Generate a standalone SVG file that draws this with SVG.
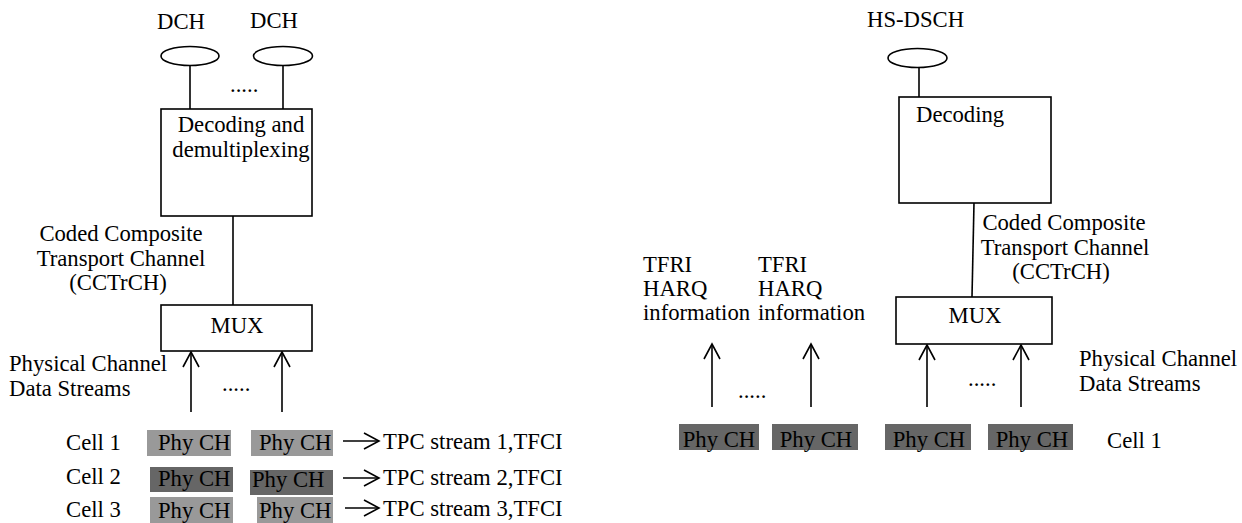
<svg xmlns="http://www.w3.org/2000/svg" width="1242" height="523" viewBox="0 0 1242 523">
<style>
text{font-family:"Liberation Serif","Times New Roman",serif;font-size:22.7px;fill:#000}
.m{text-anchor:middle}
.b{fill:#fff;stroke:#000;stroke-width:1.6}
.l{stroke:#000;stroke-width:1.6;fill:none}
.lt{fill:#999999}
.dk{fill:#666666}
</style>
<defs>
<marker id="ah" markerUnits="userSpaceOnUse" markerWidth="20" markerHeight="20" refX="0" refY="0" viewBox="-17 -10 20 20" orient="auto" overflow="visible">
<path d="M-15,-8 L0,0 L-15,8" fill="none" stroke="#000" stroke-width="1.6"/>
</marker>
</defs>
<rect width="1242" height="523" fill="#fff"/>

<g id="connectors">
<line class="l" x1="190" y1="66" x2="190" y2="109"/>
<line class="l" x1="283" y1="66" x2="283" y2="109"/>
<line class="l" x1="233" y1="216" x2="233" y2="305"/>
<line class="l" x1="191" y1="412" x2="191" y2="352" marker-end="url(#ah)"/>
<line class="l" x1="282" y1="412" x2="282" y2="352" marker-end="url(#ah)"/>
<line class="l" x1="343" y1="441" x2="379" y2="441" marker-end="url(#ah)"/>
<line class="l" x1="343" y1="478" x2="379" y2="478" marker-end="url(#ah)"/>
<line class="l" x1="345" y1="508" x2="379" y2="508" marker-end="url(#ah)"/>
<line class="l" x1="919" y1="67" x2="919" y2="97"/>
<line class="l" x1="974" y1="203" x2="972" y2="297"/>
<line class="l" x1="712" y1="407" x2="712" y2="344" marker-end="url(#ah)"/>
<line class="l" x1="811" y1="407" x2="811" y2="344" marker-end="url(#ah)"/>
<line class="l" x1="927" y1="407" x2="927" y2="345" marker-end="url(#ah)"/>
<line class="l" x1="1021" y1="407" x2="1021" y2="345" marker-end="url(#ah)"/>
</g>

<g id="dch1"><ellipse class="b" cx="190" cy="56" rx="29" ry="9.5"/><text x="181" y="29" class="m">DCH</text></g>
<g id="dch2"><ellipse class="b" cx="283" cy="56" rx="29.5" ry="9.5"/><text x="274" y="28" class="m">DCH</text></g>
<g id="dots1"><text x="230" y="92">.....</text></g>
<g id="decdemux"><rect class="b" x="161" y="109" width="151" height="107"/><text x="241" y="132" class="m">Decoding and</text><text x="241" y="157" class="m">demultiplexing</text></g>
<g id="cctrch-left"><text x="121" y="241" class="m">Coded Composite</text><text x="121" y="266" class="m">Transport Channel</text><text x="118" y="290" class="m">(CCTrCH)</text></g>
<g id="mux-left"><rect class="b" x="161" y="305" width="151" height="46"/><text x="237" y="333" class="m">MUX</text></g>
<g id="pcds-left"><text x="9" y="371">Physical Channel</text><text x="9" y="396">Data Streams</text></g>
<g id="dots2"><text x="222" y="391">.....</text></g>

<g id="cell1-left">
<text x="66" y="450">Cell 1</text>
<rect class="lt" x="147" y="430" width="84" height="26"/><text x="158" y="450">Phy CH</text>
<rect class="lt" x="251" y="430" width="82" height="26"/><text x="259" y="450">Phy CH</text>
<text x="383" y="449">TPC stream 1,TFCI</text>
</g>
<g id="cell2-left">
<text x="66" y="484">Cell 2</text>
<rect class="dk" x="150" y="467" width="83" height="25"/><text x="158" y="486">Phy CH</text>
<rect class="dk" x="250" y="470" width="83" height="25"/><text x="252" y="487">Phy CH</text>
<text x="383" y="485">TPC stream 2,TFCI</text>
</g>
<g id="cell3-left">
<text x="66" y="517">Cell 3</text>
<rect class="lt" x="150" y="497" width="83" height="26"/><text x="158" y="518">Phy CH</text>
<rect class="lt" x="257" y="497" width="76" height="26"/><text x="259" y="518">Phy CH</text>
<text x="383" y="516">TPC stream 3,TFCI</text>
</g>

<g id="hsdsch"><ellipse class="b" cx="917.5" cy="58" rx="29.5" ry="9.5"/><text x="867" y="27">HS-DSCH</text></g>
<g id="decoding"><rect class="b" x="899" y="97" width="152" height="106"/><text x="916" y="122">Decoding</text></g>
<g id="cctrch-right"><text x="1064" y="230" class="m">Coded Composite</text><text x="1065" y="255" class="m">Transport Channel</text><text x="1061" y="279" class="m">(CCTrCH)</text></g>
<g id="mux-right"><rect class="b" x="896" y="297" width="156" height="47"/><text x="975" y="323" class="m">MUX</text></g>
<g id="tfri1"><text x="643" y="272">TFRI</text><text x="643" y="296">HARQ</text><text x="643" y="320">information</text></g>
<g id="tfri2"><text x="758" y="272">TFRI</text><text x="758" y="296">HARQ</text><text x="758" y="320">information</text></g>
<g id="pcds-right"><text x="1079" y="366">Physical Channel</text><text x="1079" y="391">Data Streams</text></g>
<g id="dots3"><text x="738" y="398">.....</text></g>
<g id="dots4"><text x="968" y="386">.....</text></g>
<g id="cell1-right">
<rect class="dk" x="679" y="424" width="80" height="26"/><text x="719" y="447" class="m">Phy CH</text>
<rect class="dk" x="772" y="424" width="86" height="26"/><text x="816" y="447" class="m">Phy CH</text>
<rect class="dk" x="885" y="424" width="86" height="26"/><text x="929" y="447" class="m">Phy CH</text>
<rect class="dk" x="988" y="424" width="85" height="26"/><text x="1032" y="447" class="m">Phy CH</text>
<text x="1107" y="448">Cell 1</text>
</g>
</svg>
